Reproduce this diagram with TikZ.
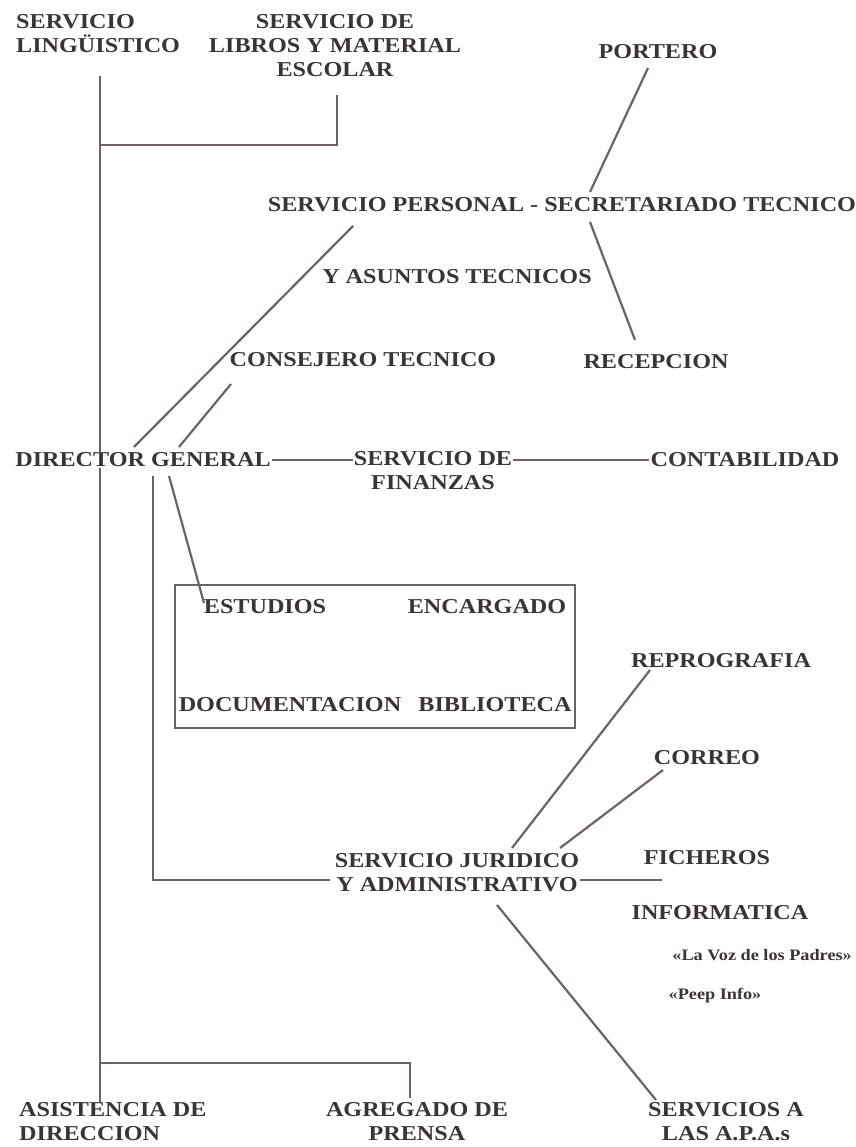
\documentclass[tikz,border=0pt]{standalone}
\usepackage{fontspec}
\setmainfont{Liberation Serif}[FakeStretch=1.14]
\definecolor{ink}{HTML}{3B3434}
\definecolor{wire}{HTML}{6E6362}
\begin{document}
\begin{tikzpicture}[x=1pt,y=-1pt,
  lbl/.style={text=ink,font=\fontsize{21.2}{24}\selectfont\bfseries,inner sep=1pt,align=center},
  sml/.style={text=ink,font=\fontsize{16}{19}\selectfont\bfseries,inner sep=1pt},
  wire/.style={draw=wire,line width=2.2pt}]
\useasboundingbox[fill=white] (0,0) rectangle (855,1147);
% nodes
\node[lbl,anchor=west,align=left] (ling) at (15,34) {SERVICIO\\LINGÜISTICO};
\node[lbl] (libros) at (335,46) {SERVICIO DE\\LIBROS Y MATERIAL\\ESCOLAR};
\node[lbl] (portero) at (658,52) {PORTERO};
\node[lbl] (sp) at (562,205) {SERVICIO PERSONAL - SECRETARIADO TECNICO};
\node[lbl] (yas) at (457,277) {Y ASUNTOS TECNICOS};
\node[lbl] (cons) at (363,360) {CONSEJERO TECNICO};
\node[lbl] (recep) at (656,362) {RECEPCION};
\node[lbl,fill=white] (dg) at (143,460) {DIRECTOR GENERAL};
\node[lbl] (fin) at (433,471) {SERVICIO DE\\FINANZAS};
\node[lbl] (cont) at (745,460) {CONTABILIDAD};
\node[draw=wire,line width=2.2pt,minimum width=400pt,minimum height=143pt,inner sep=0pt] (box) at (375,656.5) {};
\node[lbl] (est) at (265,607) {ESTUDIOS};
\node[lbl] (enc) at (487,607) {ENCARGADO};
\node[lbl] (doc) at (290,705) {DOCUMENTACION};
\node[lbl] (bib) at (495,705) {BIBLIOTECA};
\node[lbl] (repro) at (721,661) {REPROGRAFIA};
\node[lbl] (correo) at (707,758) {CORREO};
\node[lbl] (sj) at (457,873) {SERVICIO JURIDICO\\Y ADMINISTRATIVO};
\node[lbl] (fich) at (707,858) {FICHEROS};
\node[lbl] (info) at (720,913) {INFORMATICA};
\node[sml,anchor=east] (voz) at (853,955) {«La Voz de los Padres»};
\node[sml] (peep) at (715,996) {«Peep Info»};
\node[lbl] (apas) at (726,1122) {SERVICIOS A\\LAS A.P.A.s};
\node[lbl,anchor=west,align=left] (asis) at (18,1122) {ASISTENCIA DE\\DIRECCION};
\node[lbl] (agreg) at (417,1122) {AGREGADO DE\\PRENSA};
% coordinates
\coordinate (tt) at (100,76);
\coordinate (lb) at (337,95);
\coordinate (lbh) at (100,145);
\coordinate (ab) at (100,1063);
\coordinate (ag) at (410,1098);
\coordinate (po1) at (648,68);  \coordinate (po2) at (590,192);
\coordinate (re1) at (590,222); \coordinate (re2) at (635,340);
\coordinate (sp1) at (134,447); \coordinate (sp2) at (353,226);
\coordinate (co1) at (179,447); \coordinate (co2) at (231,384);
\coordinate (v1) at (153,476);  \coordinate (v2) at (153,880);
\coordinate (sjw) at (330,880);
\coordinate (es1) at (169,476); \coordinate (es2) at (204,603);
\coordinate (rp1) at (650,670); \coordinate (rp2) at (512,848);
\coordinate (cr1) at (663,770); \coordinate (cr2) at (560,848);
\coordinate (sje) at (580,880); \coordinate (fi1) at (662,880);
\coordinate (ap1) at (497,905); \coordinate (ap2) at (656,1100);
% connectors
\draw[wire] (tt) -- (tt |- dg.north);
\draw[wire] (tt |- dg.south) -- (tt |- asis.north);
\draw[wire] (lb) |- (lbh);
\draw[wire] (ab) -| (ag);
\draw[wire] (po1) -- (po2);
\draw[wire] (re1) -- (re2);
\draw[wire] (sp1) -- (sp2);
\draw[wire] (co1) -- (co2);
\draw[wire] (dg.east) -- (dg.east -| fin.west);
\draw[wire] (dg.east -| fin.east) -- (cont.west);
\draw[wire] (v1) -- (v2) -- (sjw);
\draw[wire] (es1) -- (es2);
\draw[wire] (rp1) -- (rp2);
\draw[wire] (cr1) -- (cr2);
\draw[wire] (sje) -- (fi1);
\draw[wire] (ap1) -- (ap2);
\end{tikzpicture}
\end{document}
